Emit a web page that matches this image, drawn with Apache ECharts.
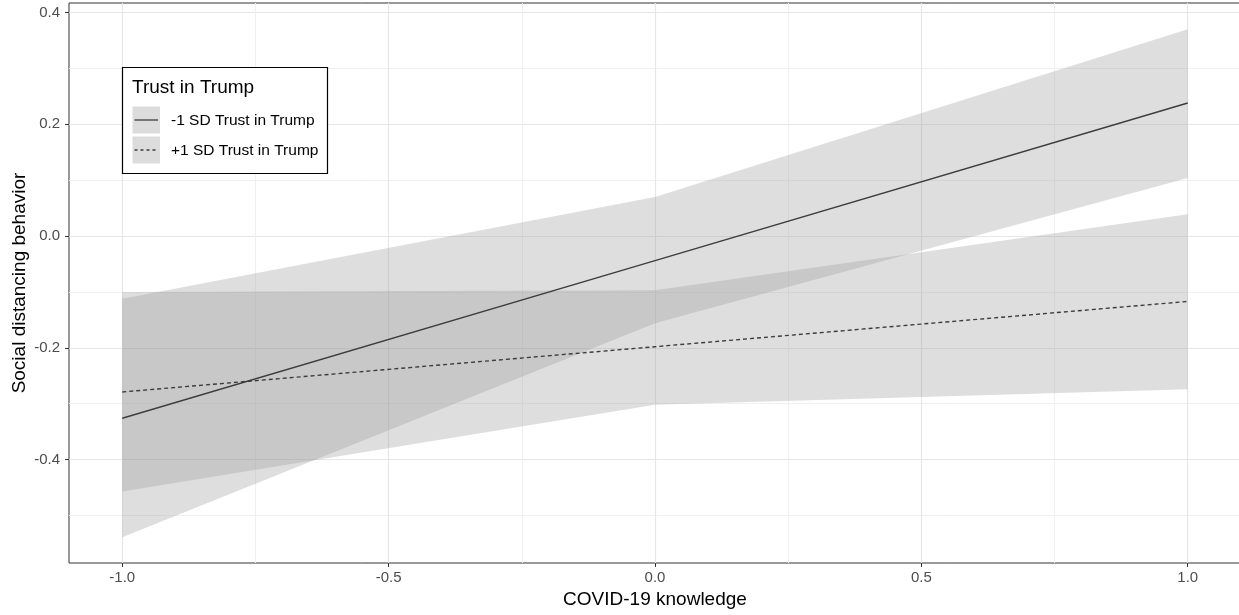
<!DOCTYPE html>
<html>
<head>
<meta charset="utf-8">
<script src="https://cdn.jsdelivr.net/npm/echarts@6/dist/echarts.min.js"></script>
<style>
html,body{margin:0;padding:0;background:#fff;}
#chart{width:1239px;height:615px;}
</style>
</head>
<body>
<div id="chart"></div>
<script>
// ---- data ----
const xVals = [-1, 0, 1];
const lowTrustLine = [-0.326, -0.044, 0.238];     // -1 SD Trust in Trump
const highTrustLine = [-0.279, -0.198, -0.117];   // +1 SD Trust in Trump
const lowTrustLower = [-0.539, -0.156, 0.104];
const lowTrustUpper = [-0.112, 0.070, 0.370];
const highTrustLower = [-0.457, -0.302, -0.274];
const highTrustUpper = [-0.100, -0.097, 0.039];
const xTicks = [-1, -0.5, 0, 0.5, 1];
const xMinor = [-0.75, -0.25, 0.25, 0.75];
const yTicks = [-0.4, -0.2, 0, 0.2, 0.4];
const yMinor = [-0.5, -0.3, -0.1, 0.1, 0.3];
const legendTitle = 'Trust in Trump';
const seriesNames = ['-1 SD Trust in Trump', '+1 SD Trust in Trump'];

const FONT = 'Liberation Sans, Arial, sans-serif';
const bandColor = 'rgba(156,156,156,0.33)';
const lineColor = '#3d3d3d';

const pts = (ys) => xVals.map((x, i) => [x, ys[i]]);

const gridLines = []
  .concat(yTicks.map(v => ({yAxis: v, lineStyle: {color: '#e6e6e6', width: 1.2, type: 'solid'}})))
  .concat(yMinor.map(v => ({yAxis: v, lineStyle: {color: '#f0f0f0', width: 1, type: 'solid'}})))
  .concat(xTicks.map(v => ({xAxis: v, lineStyle: {color: '#e6e6e6', width: 1.2, type: 'solid'}})))
  .concat(xMinor.map(v => ({xAxis: v, lineStyle: {color: '#f0f0f0', width: 1, type: 'solid'}})));

function bandSeries(name, lower, upper) {
  return {
    type: 'custom', name: name, z: 2, silent: true,
    data: xVals.map((x, i) => [x, lower[i], upper[i]]),
    renderItem: function (params, api) {
      if (params.dataIndex !== 0) return null;
      const top = xVals.map((x, i) => api.coord([x, upper[i]]));
      const bot = xVals.map((x, i) => api.coord([x, lower[i]])).reverse();
      return {type: 'polygon', shape: {points: top.concat(bot)}, style: {fill: bandColor, stroke: null}};
    }
  };
}

const chart = echarts.init(document.getElementById('chart'), null, {renderer: 'canvas'});
chart.setOption({
  animation: false,
  grid: {left: 69, top: 3, width: 1172, height: 560, show: true, borderColor: '#333', borderWidth: 1,
    backgroundColor: 'transparent', containLabel: false, outerBoundsMode: 'none'},
  xAxis: {
    type: 'value', min: -1.1, max: 1.1,
    name: 'COVID-19 knowledge', nameLocation: 'middle', nameGap: 27, nameMoveOverlap: false,
    nameTextStyle: {fontSize: 19, color: '#000', fontFamily: FONT},
    axisLine: {show: false, onZero: false},
    axisTick: {show: true, length: 4, lineStyle: {color: '#333', width: 1}, customValues: xTicks},
    axisLabel: {customValues: xTicks, formatter: v => v.toFixed(1), fontSize: 15, color: '#4d4d4d', fontFamily: FONT, margin: 7},
    splitLine: {show: false}
  },
  yAxis: {
    type: 'value', min: -0.585, max: 0.417,
    name: 'Social distancing behavior', nameLocation: 'middle', nameGap: 40, nameRotate: 90, nameMoveOverlap: false,
    nameTextStyle: {fontSize: 19, color: '#000', fontFamily: FONT},
    axisLine: {show: false, onZero: false},
    axisTick: {show: true, length: 4, lineStyle: {color: '#333', width: 1}, customValues: yTicks},
    axisLabel: {customValues: yTicks, formatter: v => v.toFixed(1), fontSize: 15, color: '#4d4d4d', fontFamily: FONT, margin: 9},
    splitLine: {show: false}
  },
  series: [
    {type: 'line', name: 'grid', data: [], z: 0, silent: true,
      markLine: {z: 0, silent: true, symbol: ['none', 'none'], label: {show: false}, animation: false, data: gridLines}},
    bandSeries('band-low', lowTrustLower, lowTrustUpper),
    bandSeries('band-high', highTrustLower, highTrustUpper),
    {type: 'line', name: seriesNames[0], z: 3, data: pts(lowTrustLine), showSymbol: false, symbol: 'none', silent: true,
      lineStyle: {color: lineColor, width: 1.4, type: 'solid'}},
    {type: 'line', name: seriesNames[1], z: 3, data: pts(highTrustLine), showSymbol: false, symbol: 'none', silent: true,
      lineStyle: {color: lineColor, width: 1.4, type: [4, 3]}}
  ],
  graphic: [
    {type: 'rect', z: 100, shape: {x: 122.5, y: 67.5, width: 205, height: 106}, style: {fill: '#fff', stroke: '#000', lineWidth: 1.2}},
    {type: 'text', z: 101, x: 132, y: 87.5, style: {text: legendTitle, fontSize: 19, fontFamily: FONT, fill: '#000', verticalAlign: 'middle'}},
    {type: 'rect', z: 101, shape: {x: 132.5, y: 106.5, width: 27.5, height: 27}, style: {fill: '#dcdcdc'}},
    {type: 'rect', z: 101, shape: {x: 132.5, y: 136.5, width: 27.5, height: 27}, style: {fill: '#dcdcdc'}},
    {type: 'line', z: 102, shape: {x1: 134.5, y1: 120, x2: 158, y2: 120}, style: {stroke: lineColor, lineWidth: 1.3}},
    {type: 'line', z: 102, shape: {x1: 134.5, y1: 150, x2: 158, y2: 150}, style: {stroke: lineColor, lineWidth: 1.3, lineDash: [3, 3]}},
    {type: 'text', z: 101, x: 171, y: 120.5, style: {text: seriesNames[0], fontSize: 15.5, fontFamily: FONT, fill: '#000', verticalAlign: 'middle'}},
    {type: 'text', z: 101, x: 171, y: 150.5, style: {text: seriesNames[1], fontSize: 15.5, fontFamily: FONT, fill: '#000', verticalAlign: 'middle'}}
  ]
});
</script>
</body>
</html>
